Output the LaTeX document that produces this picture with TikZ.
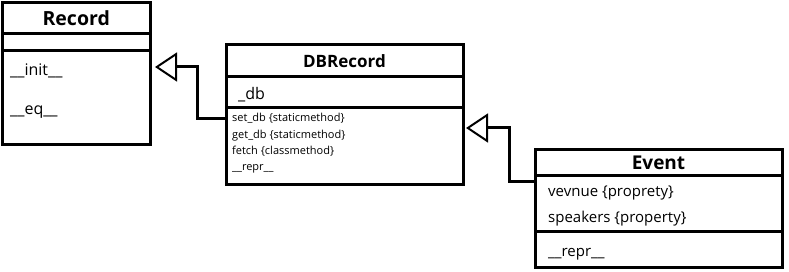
\documentclass[tikz,border=0pt]{standalone}
\usepackage{fontspec}
\setmainfont{Open Sans}
\usetikzlibrary{positioning,arrows.meta}
\tikzset{>=stealth}
\tikzset{
  part/.style={draw, line width=3pt, outer sep=0pt, inner sep=0pt, anchor=north west},
  title/.style={font=\bfseries\fontsize{#1}{#1}\selectfont},
  member/.style={anchor=base west, inner sep=0pt, font=\fontsize{#1}{#1}\selectfont},
  member/.default=15,
  smallmember/.style={anchor=base west, inner sep=0pt, font=\fontsize{11}{11}\selectfont},
  inherit/.style={line width=3pt, -{Triangle[open,length=22pt,width=29pt,line width=2pt]}}
}

\begin{document}
\begin{tikzpicture}[x=1pt,y=-1pt]
  \useasboundingbox (0,0) rectangle (789,272);

  % Record
  \node[part, title=19.5, minimum width=147.5pt, minimum height=31.5pt] (rec-t) at (2.5,2.5) {Record};
  \node[part, minimum width=147.5pt, minimum height=17pt, below=0pt of rec-t] (rec-a) {};
  \node[part, minimum width=147.5pt, minimum height=94pt, below=0pt of rec-a] (rec-m) {};
  \node[member=16] (rec-init) at (10,76) {\_\_init\_\_};
  \node[member=16] (rec-eq) at (10,115) {\_\_eq\_\_};

  % DBRecord
  \node[part, title=17, minimum width=237pt, minimum height=32pt] (dbr-t) at (226,45) {DBRecord};
  \node[part, minimum width=237pt, minimum height=31pt, below=0pt of dbr-t] (dbr-a) {};
  \node[part, minimum width=237pt, minimum height=77pt, below=0pt of dbr-a] (dbr-m) {};
  \node[member=16] (dbr-db) at (238,100) {\_db};
  \node[smallmember] (dbr-set) at (232,122) {set\_db \{staticmethod\}};
  \node[smallmember] (dbr-get) at (232,139) {get\_db \{staticmethod\}};
  \node[smallmember] (dbr-fetch) at (232,155) {fetch \{classmethod\}};
  \node[smallmember] (dbr-repr) at (232,171) {\_\_repr\_\_};

  % Event
  \node[part, title=19, minimum width=247pt, minimum height=26pt] (ev-t) at (535,150) {Event};
  \node[part, minimum width=247pt, minimum height=56pt, below=0pt of ev-t] (ev-a) {};
  \node[part, minimum width=247pt, minimum height=35pt, below=0pt of ev-a] (ev-m) {};
  \node[member] (ev-venue) at (548,197) {vevnue \{proprety\}};
  \node[member] (ev-speakers) at (548,223) {speakers \{property\}};
  \node[member] (ev-repr) at (548,257) {\_\_repr\_\_};

  % inheritance
  \draw[inherit] ([yshift=-11pt]dbr-m.north west) -- ++(-29,0)
    |- ([xshift=5pt,yshift=-16pt]rec-m.north east);
  \draw[inherit] ([yshift=-6pt]ev-a.north west) -- ++(-26,0)
    |- ([xshift=3pt,yshift=-20pt]dbr-m.north east);
\end{tikzpicture}
\end{document}
